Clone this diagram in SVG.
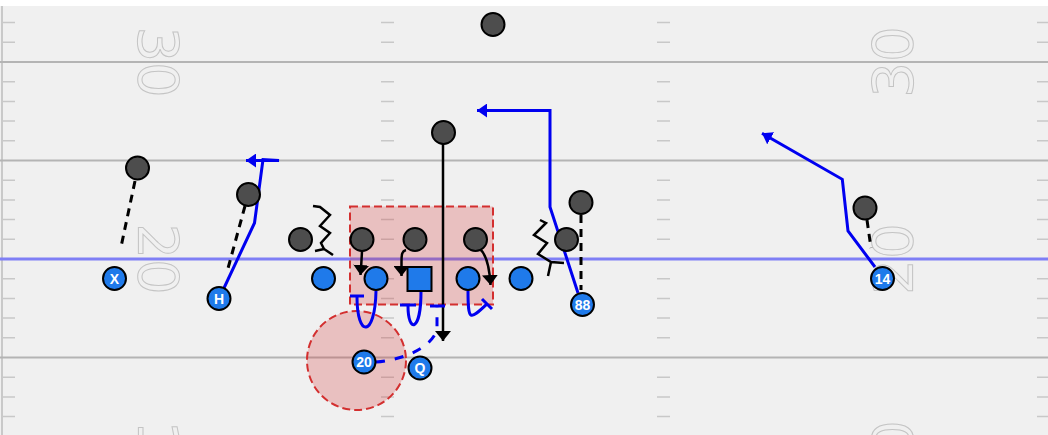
<svg xmlns="http://www.w3.org/2000/svg" width="1048" height="435" viewBox="0 0 1048 435">
<style>
.yard{stroke:#b4b4b4;stroke-width:2}
.hash{stroke:#c8c8c8;stroke-width:1.5}
.num{font-family:"DejaVu Sans",sans-serif;font-size:56px;fill:none;stroke:#c4c4c4;stroke-width:1}
.def{fill:#4d4d4d;stroke:#000;stroke-width:2}
.off{fill:#1f7aea;stroke:#000;stroke-width:2}
.lbl{font-family:"Liberation Sans",Arial,sans-serif;font-weight:bold;font-size:14px;fill:#fff;text-anchor:middle}
.route{fill:none;stroke:#0000f0;stroke-width:3;stroke-linejoin:miter}
.broute{fill:none;stroke:#0000f0;stroke-width:3;stroke-dasharray:9,10}
.blk{fill:none;stroke:#000;stroke-width:2.5}
.bdash{fill:none;stroke:#000;stroke-width:3;stroke-dasharray:8,6}
.zone{fill:#d32f2f;fill-opacity:0.25;stroke:#d32f2f;stroke-width:2;stroke-dasharray:8,4}
</style>
<defs>
<marker id="ab" viewBox="0 0 10 14" refX="10" refY="7" markerWidth="10" markerHeight="14" markerUnits="userSpaceOnUse" orient="auto">
<path d="M0,0 L10,7 L0,14 z" fill="#0000f0"/>
</marker>
<marker id="ak" viewBox="0 0 10 16" refX="10" refY="8" markerWidth="10" markerHeight="16" markerUnits="userSpaceOnUse" orient="auto">
<path d="M0,0 L10,8 L0,16 z" fill="#000"/>
</marker>
</defs>
<rect x="0" y="0" width="1048" height="435" fill="#fff"/>
<g id="field">
<rect x="0" y="6" width="1048" height="429" fill="#f0f0f0"/>
<line x1="2" y1="6" x2="2" y2="435" stroke="#bdbdbd" stroke-width="1.5"/>
<line class="yard" x1="0" y1="62" x2="1048" y2="62"/>
<line class="yard" x1="0" y1="160.5" x2="1048" y2="160.5"/>
<line class="yard" x1="0" y1="357.5" x2="1048" y2="357.5"/>
<g id="hashes">
<path class="hash" d="M3,22.6h12M381,22.6h13M657,22.6h13M1037,22.6h11
M3,42.3h12M381,42.3h13M657,42.3h13M1037,42.3h11
M3,81.7h12M381,81.7h13M657,81.7h13M1037,81.7h11
M3,101.4h12M381,101.4h13M657,101.4h13M1037,101.4h11
M3,121.1h12M381,121.1h13M657,121.1h13M1037,121.1h11
M3,140.8h12M381,140.8h13M657,140.8h13M1037,140.8h11
M3,180.2h12M381,180.2h13M657,180.2h13M1037,180.2h11
M3,199.9h12M381,199.9h13M657,199.9h13M1037,199.9h11
M3,219.6h12M381,219.6h13M657,219.6h13M1037,219.6h11
M3,239.3h12M381,239.3h13M657,239.3h13M1037,239.3h11
M3,278.7h12M381,278.7h13M657,278.7h13M1037,278.7h11
M3,298.4h12M381,298.4h13M657,298.4h13M1037,298.4h11
M3,318.1h12M381,318.1h13M657,318.1h13M1037,318.1h11
M3,337.8h12M381,337.8h13M657,337.8h13M1037,337.8h11
M3,377.2h12M381,377.2h13M657,377.2h13M1037,377.2h11
M3,396.9h12M381,396.9h13M657,396.9h13M1037,396.9h11
M3,416.6h12M381,416.6h13M657,416.6h13M1037,416.6h11"/>
</g>
<g id="numbers">
<text class="num" text-anchor="middle" dominant-baseline="central" transform="translate(158,62) rotate(90)">30</text>
<text class="num" text-anchor="middle" dominant-baseline="central" transform="translate(158,259) rotate(90)">20</text>
<text class="num" text-anchor="middle" dominant-baseline="central" transform="translate(158,456) rotate(90)">10</text>
<text class="num" text-anchor="middle" dominant-baseline="central" transform="translate(892,62) rotate(-90)">30</text>
<text class="num" text-anchor="middle" dominant-baseline="central" transform="translate(892,259) rotate(-90)">20</text>
<text class="num" text-anchor="middle" dominant-baseline="central" transform="translate(892,456) rotate(-90)">10</text>
</g>
<line x1="0" y1="259" x2="1048" y2="259" stroke="#7f7ff5" stroke-width="3"/>
</g>
<g id="zones">
<rect id="zone-box" class="zone" x="350" y="206.5" width="143" height="98"/>
<circle id="zone-circle" class="zone" cx="356.5" cy="360.5" r="49.5"/>
</g>
<g id="connectors">
<path class="bdash" d="M135,181 L121,247"/>
<path class="bdash" d="M245,206 L227,272"/>
<path class="bdash" d="M581,215 L581,290"/>
<path class="bdash" d="M867,220 L871,248"/>
<path class="blk" d="M443,144 L443,341" marker-end="url(#ak)"/>
<path class="blk" d="M362,251 Q361.5,262 360.5,275" marker-end="url(#ak)"/>
<path class="blk" d="M406,250 C402,251 401.5,254 401.5,262 L401.5,276" marker-end="url(#ak)"/>
<path class="blk" d="M480,249 Q489,257 490.5,285" marker-end="url(#ak)"/>
<path class="blk" d="M313,206 L320,207 L330,215 L320,226 L330,233 L321,243 L324,249 L333,255 M315,251 L324,249"/>
<path class="blk" d="M540,220 L546,223 L534,235 L547,243 L538,254 L551,262 L564,263 M551,262 L548,276"/>
<path class="route" d="M224,288 L254.5,223 L263,159.5 L279,160.5 L246,160.5" marker-end="url(#ab)"/>
<path class="route" d="M578,293 L550,207 L550,110.5 L477,110.5" marker-end="url(#ab)"/>
<path class="route" d="M875,267 L848,231 L842.3,179.3 L762,133.3" marker-end="url(#ab)"/>
<path class="route" d="M376,291 C375,338 357,338 357,297 M350,296 L364,296"/>
<path class="route" d="M421,291 C421,333 408,333 408,306 M400,305 L416,305"/>
<path class="route" d="M468,291 C468,322 470,320 487,304 M482,299 L492,309"/>
<path class="broute" d="M376,362 C400,360 430,350 437,330 L437,307"/>
<path class="route" d="M430,306 L445,306"/>
</g>
<g id="defense">
<circle id="d1" class="def" cx="493" cy="24.5" r="11.5"/>
<circle id="d2" class="def" cx="443.5" cy="132.5" r="11.5"/>
<circle id="d3" class="def" cx="137.5" cy="168" r="11.5"/>
<circle id="d4" class="def" cx="248.5" cy="194.5" r="11.5"/>
<circle id="d5" class="def" cx="300.5" cy="239.5" r="11.5"/>
<circle id="d6" class="def" cx="362" cy="239.5" r="11.5"/>
<circle id="d7" class="def" cx="415" cy="239.5" r="11.5"/>
<circle id="d8" class="def" cx="475.5" cy="239.5" r="11.5"/>
<circle id="d9" class="def" cx="566.5" cy="239.5" r="11.5"/>
<circle id="d10" class="def" cx="581" cy="202.5" r="11.5"/>
<circle id="d11" class="def" cx="865" cy="208" r="11.5"/>
</g>
<g id="offense">
<g id="o-x"><circle class="off" cx="114.5" cy="278.5" r="11.5"/><text class="lbl" x="114.5" y="283.5">X</text></g>
<g id="o-h"><circle class="off" cx="219" cy="298.5" r="11.5"/><text class="lbl" x="219" y="303.5">H</text></g>
<g id="o-lt"><circle class="off" cx="323.5" cy="278.5" r="11.5"/></g>
<g id="o-lg"><circle class="off" cx="376" cy="278.5" r="11.5"/></g>
<g id="o-c"><rect class="off" x="407.5" y="267" width="24" height="24"/></g>
<g id="o-rg"><circle class="off" cx="468" cy="278.5" r="11.5"/></g>
<g id="o-rt"><circle class="off" cx="521" cy="278.5" r="11.5"/></g>
<g id="o-88"><circle class="off" cx="582.5" cy="304.5" r="11.5"/><text class="lbl" x="582.5" y="309.5">88</text></g>
<g id="o-14"><circle class="off" cx="882.5" cy="278.5" r="11.5"/><text class="lbl" x="882.5" y="283.5">14</text></g>
<g id="o-20"><circle class="off" cx="364" cy="362" r="11.5"/><text class="lbl" x="364" y="367">20</text></g>
<g id="o-q"><circle class="off" cx="420" cy="368" r="11.5"/><text class="lbl" x="420" y="373">Q</text></g>
</g>
</svg>
